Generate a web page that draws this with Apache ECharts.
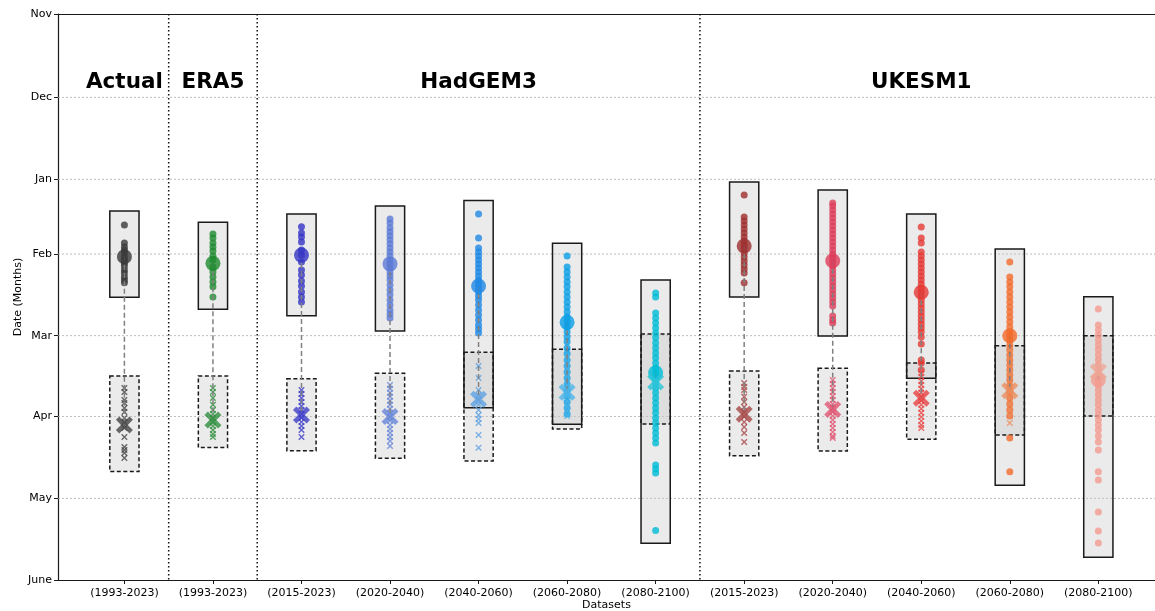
<!DOCTYPE html>
<html>
<head>
<meta charset="utf-8">
<script src="https://cdn.jsdelivr.net/npm/echarts@6/dist/echarts.min.js"></script>
<style>
  html, body { margin: 0; padding: 0; background: #fff; }
  #chart { width: 1155px; height: 611px; }
</style>
</head>
<body>
<div id="chart"></div>
<script>
// Season dates are stored as days after 1 November.
const periods = ['(1993-2023)', '(1993-2023)', '(2015-2023)', '(2020-2040)', '(2040-2060)',
                 '(2060-2080)', '(2080-2100)', '(2015-2023)', '(2020-2040)', '(2040-2060)',
                 '(2060-2080)', '(2080-2100)'];

const monthLabels = ['Nov', 'Dec', 'Jan', 'Feb', 'Mar', 'Apr', 'May', 'June'];
const monthDays   = [0, 31.2, 61.9, 89.9, 120.5, 150.8, 181.4, 212];

// dataset headings and the category they sit over
const groupNames  = ['Actual', 'ERA5', 'HadGEM3', 'UKESM1'];
const groupCentre = [0, 1, 4, 9];
const groupDay    = 25.5;

// boundaries between dataset families (category coordinates)
const separators = [0.5, 1.5, 6.5];

// start-of-season dates (dots), one list per category
const startDays = [
  [79.0, 85.8, 87.3, 88.4, 89.5, 91.0, 92.1, 93.3, 94.4, 95.9, 97.0, 98.5, 99.6, 100.7],
  [82.4, 83.9, 85.8, 87.3, 88.8, 90.6, 92.1, 94.8, 96.6, 98.5, 100.4, 102.2, 106.0],
  [79.7, 82.0, 83.5, 85.4, 88.4, 90.3, 92.9, 95.9, 97.8, 100.0, 101.9, 104.1, 106.0, 107.9],
  [76.8, 78.3, 80.1, 81.6, 83.1, 84.6, 86.1, 87.6, 89.1, 90.6, 92.1, 93.6, 95.1, 96.6, 98.1,
   99.6, 101.5, 103.4, 105.2, 107.1, 109.0, 110.9, 112.4, 113.9],
  [74.9, 83.9, 87.6, 89.1, 90.6, 92.1, 93.6, 95.1, 96.6, 98.1, 99.6, 101.1, 102.6, 104.1,
   105.6, 107.1, 109.0, 110.9, 112.7, 114.6, 116.5, 118.0, 119.5],
  [90.6, 94.8, 96.6, 98.5, 100.4, 102.2, 104.1, 106.0, 107.9, 109.7, 111.6, 113.5, 115.4,
   117.2, 119.1, 121.0, 122.8, 125.1, 127.3, 129.6, 131.8, 134.1, 136.3, 138.6, 140.8,
   143.1, 145.3, 147.6, 149.8],
  [104.5, 106.0, 112.0, 113.9, 115.7, 117.6, 119.5, 121.3, 123.2, 125.1, 127.0, 128.8,
   130.7, 132.6, 134.5, 136.3, 138.2, 140.1, 141.9, 143.8, 145.7, 147.6, 149.4, 151.3,
   153.2, 155.1, 156.9, 158.8, 160.7, 168.9, 170.4, 171.9, 193.5],
  [67.8, 76.0, 77.5, 79.0, 80.5, 82.0, 83.5, 85.0, 86.5, 88.0, 89.5, 91.0, 92.5, 94.0,
   95.5, 97.0, 100.7],
  [70.8, 71.9, 73.4, 74.9, 76.4, 77.9, 79.4, 80.9, 82.4, 83.9, 85.4, 86.9, 88.4, 89.9,
   91.4, 92.9, 94.4, 95.9, 97.4, 98.9, 100.4, 101.9, 103.4, 104.9, 106.4, 107.9, 109.4,
   113.1, 114.6, 115.7],
  [79.8, 83.9, 85.8, 89.1, 90.6, 92.1, 93.6, 95.1, 96.6, 98.1, 99.6, 101.1, 102.6, 104.1,
   105.6, 107.1, 108.6, 110.1, 111.6, 113.1, 114.6, 116.1, 117.6, 119.1, 121.0, 123.6,
   129.6, 130.7, 133.3],
  [92.9, 98.5, 100.4, 102.2, 104.1, 106.0, 107.9, 109.7, 111.6, 113.5, 115.4, 117.2, 119.1,
   120.6, 122.1, 124.0, 125.8, 127.7, 129.6, 131.5, 133.3, 135.2, 137.1, 139.3, 141.6,
   143.8, 146.1, 148.3, 150.6, 158.8, 171.5],
  [110.5, 116.5, 118.4, 120.2, 122.1, 124.0, 125.8, 127.7, 129.6, 131.5, 133.3, 135.2,
   137.1, 139.0, 140.8, 142.7, 144.6, 146.4, 148.3, 150.2, 152.1, 153.9, 155.8, 158.1,
   160.3, 163.3, 171.5, 174.5, 186.5, 193.6, 198.1]
];

// end-of-season dates (crosses), one list per category
const endDays = [
  [140.1, 141.6, 144.6, 145.7, 147.6, 149.1, 151.3, 152.8, 155.1, 158.4, 162.2, 163.3, 164.4, 166.3],
  [140.1, 141.6, 143.8, 146.4, 148.3, 149.8, 151.3, 152.8, 154.3, 155.8, 157.3, 158.4],
  [140.8, 142.3, 143.8, 145.3, 146.8, 148.3, 149.8, 151.3, 152.8, 154.3, 155.8, 158.4],
  [139.0, 140.4, 141.9, 143.4, 144.9, 146.4, 147.9, 149.4, 150.9, 152.4, 153.9, 155.4,
   156.9, 158.4, 159.9, 161.8],
  [131.8, 136.3, 140.8, 142.7, 144.6, 146.4, 148.3, 150.2, 151.7, 153.2, 157.7, 162.5],
  [128.5, 130.7, 133.0, 135.2, 137.5, 139.3, 141.2, 143.1, 144.9, 146.8, 148.7, 150.6],
  [133.3, 134.8, 136.3, 137.8, 139.3, 140.8],
  [138.2, 139.7, 140.8, 143.4, 145.3, 147.2, 149.1, 150.9, 152.8, 154.7, 156.9, 160.3],
  [137.1, 138.6, 140.1, 141.6, 143.1, 144.6, 146.1, 147.6, 149.1, 150.6, 152.1, 153.6,
   155.1, 156.6, 158.1, 158.8],
  [134.5, 136.0, 137.5, 139.0, 140.4, 141.9, 143.4, 144.9, 146.4, 147.9, 149.4, 150.9,
   152.4, 153.9, 155.1],
  [125.8, 128.1, 130.3, 132.6, 134.8, 137.1, 139.3, 141.6, 143.8, 146.1, 148.3, 150.6, 153.2],
  [128.5, 130.3, 132.2, 134.1, 136.0, 137.8, 139.7, 141.6, 143.4, 145.7]
];

// mean start / end dates
const startMean = [90.9, 93.4, 90.3, 93.6, 101.9, 115.5, 134.4, 86.9, 92.4, 104.2, 120.5, 137.1];
const endMean   = [153.9, 152.1, 150.2, 150.8, 144.3, 141.7, 137.8, 149.9, 148.1, 143.9, 141.1, 134.0];

// spread boxes: start (solid outline) and end (dashed outline)
const startLow  = [73.8, 78.0, 74.9, 71.9, 69.9, 85.9, 99.6, 62.9, 65.9, 74.9, 88.0, 105.9];
const startHigh = [106.1, 110.6, 113.0, 118.7, 147.5, 153.7, 198.2, 106.0, 120.6, 136.4, 176.5, 203.5];
const endLow    = [135.6, 135.6, 136.6, 134.6, 126.7, 125.6, 119.9, 133.7, 132.7, 130.7, 124.3, 120.5];
const endHigh   = [171.4, 162.4, 163.6, 166.4, 167.4, 155.4, 153.6, 165.5, 163.7, 159.3, 157.7, 150.6];

// colours per category
const startColors = ['#3a3a3a', '#1f8b30', '#3434c6', '#5b7bd6', '#1f88e5', '#0a9fe6',
                     '#00bcd6', '#9e2f2f', '#dc3d5a', '#e53935', '#f36a2a', '#f39b90'];
const endColors   = ['#454545', '#2f8f3e', '#3e3ec9', '#6686d8', '#5ea1e2', '#4cb4e8',
                     '#2cc4d9', '#a84747', '#e05572', '#e84242', '#eb8d5e', '#eca696'];

const FONT = 'DejaVu Sans';
const AXIS_COLOR = '#1a1a1a';
const BOX_HALF = 0.165;
const CROSS_PATH = 'path://M0,0L10,10M10,0L0,10';
const BIG_X_PATH = 'path://M2,0L5,3L8,0L10,2L7,5L10,8L8,10L5,7L2,10L0,8L3,5L0,2Z';

const chart = echarts.init(document.getElementById('chart'), null, { renderer: 'canvas' });

const cats = periods.map((_, i) => i);

const startPoints = [];
startDays.forEach((list, i) => list.forEach(d => startPoints.push({
  value: [i, d], itemStyle: { color: startColors[i] }
})));
const endPoints = [];
endDays.forEach((list, i) => list.forEach(d => endPoints.push({
  value: [i, d], itemStyle: { color: 'transparent', borderColor: endColors[i], borderWidth: 1.4 }
})));

const xRange = { min: -0.75, max: 11.64 };

const option = {
  animation: false,
  backgroundColor: '#ffffff',
  textStyle: { fontFamily: FONT },
  grid: { left: 58, top: 14, bottom: 31, right: 0, outerBoundsMode: 'none' },
  xAxis: [
    {
      type: 'value', min: xRange.min, max: xRange.max, position: 'bottom',
      name: 'Datasets', nameLocation: 'middle', nameGap: 20, nameMoveOverlap: false,
      nameTextStyle: { fontFamily: FONT, fontSize: 11, color: '#000' },
      axisLine: { show: true, onZero: false, lineStyle: { color: AXIS_COLOR, width: 1.2 } },
      axisTick: { show: true, customValues: cats, length: 4, lineStyle: { color: AXIS_COLOR } },
      axisLabel: {
        customValues: cats, margin: 8, fontFamily: FONT, fontSize: 11, color: '#000',
        formatter: v => periods[Math.round(v)]
      },
      splitLine: { show: false }
    },
    {
      // top frame line
      type: 'value', min: xRange.min, max: xRange.max, position: 'top',
      axisLine: { show: true, onZero: false, lineStyle: { color: AXIS_COLOR, width: 1.2 } },
      axisTick: { show: false }, axisLabel: { show: false }, splitLine: { show: false }
    }
  ],
  yAxis: {
    type: 'value', inverse: true, min: 0, max: 212,
    name: 'Date (Months)', nameLocation: 'middle', nameGap: 34, nameRotate: 90,
    nameMoveOverlap: false,
    nameTextStyle: { fontFamily: FONT, fontSize: 11, color: '#000' },
    axisLine: { show: true, onZero: false, lineStyle: { color: AXIS_COLOR, width: 1.2 } },
    axisTick: { show: true, customValues: monthDays, length: 4, lineStyle: { color: AXIS_COLOR } },
    axisLabel: {
      customValues: monthDays, margin: 6, fontFamily: FONT, fontSize: 11, color: '#000',
      showMinLabel: true, showMaxLabel: true,
      formatter: v => {
        const k = monthDays.findIndex(m => Math.abs(m - v) < 0.01);
        return k >= 0 ? monthLabels[k] : '';
      }
    },
    splitLine: { show: false }
  },
  series: [
    {
      // horizontal month grid lines
      type: 'custom', silent: true, z: 1,
      data: monthDays.slice(1, -1).map(d => [0, d]),
      renderItem: (params, api) => {
        const cs = params.coordSys;
        const y = api.coord([0, api.value(1)])[1];
        return {
          type: 'line',
          shape: { x1: cs.x, y1: y, x2: cs.x + cs.width, y2: y },
          style: { stroke: '#adadad', lineWidth: 0.8, lineDash: [2, 2] }
        };
      }
    },
    {
      // dotted separators between dataset families
      type: 'custom', silent: true, z: 1,
      data: separators.map(x => [x, 0]),
      renderItem: (params, api) => {
        const cs = params.coordSys;
        const x = api.coord([api.value(0), 0])[0];
        return {
          type: 'line',
          shape: { x1: x, y1: cs.y, x2: x, y2: cs.y + cs.height },
          style: { stroke: '#111', lineWidth: 1.5, lineDash: [1.5, 2.5] }
        };
      }
    },
    {
      // spread boxes
      type: 'custom', silent: true, z: 2,
      data: cats.map(i => [i, startLow[i], startHigh[i], endLow[i], endHigh[i]]),
      renderItem: (params, api) => {
        const i = api.value(0);
        const a0 = api.coord([i - BOX_HALF, api.value(1)]);
        const a1 = api.coord([i + BOX_HALF, api.value(2)]);
        const b0 = api.coord([i - BOX_HALF, api.value(3)]);
        const b1 = api.coord([i + BOX_HALF, api.value(4)]);
        const fill = 'rgba(200,200,200,0.36)';
        const rectA = { x: a0[0], y: a0[1], width: a1[0] - a0[0], height: a1[1] - a0[1] };
        const rectB = { x: b0[0], y: b0[1], width: b1[0] - b0[0], height: b1[1] - b0[1] };
        return {
          type: 'group',
          children: [
            { type: 'rect', shape: rectA, style: { fill: fill } },
            { type: 'rect', shape: rectB, style: { fill: fill } },
            { type: 'rect', shape: rectA, style: { fill: 'none', stroke: AXIS_COLOR, lineWidth: 1.5 } },
            { type: 'rect', shape: rectB, style: { fill: 'none', stroke: AXIS_COLOR, lineWidth: 1.5, lineDash: [4, 2.5] } }
          ]
        };
      }
    },
    {
      // individual start dates
      type: 'scatter', z: 3, symbol: 'circle', symbolSize: 7,
      data: startPoints
    },
    {
      // individual end dates
      type: 'scatter', z: 3, symbol: CROSS_PATH, symbolSize: 5.5,
      data: endPoints
    },
    {
      // dashed link between mean start and mean end
      type: 'custom', silent: true, z: 4,
      data: cats.map(i => [i, startMean[i], endMean[i]]),
      renderItem: (params, api) => {
        const p0 = api.coord([api.value(0), api.value(1)]);
        const p1 = api.coord([api.value(0), api.value(2)]);
        return {
          type: 'line',
          shape: { x1: p0[0], y1: p0[1], x2: p1[0], y2: p1[1] },
          style: { stroke: '#808080', lineWidth: 1.5, lineDash: [5, 3] }
        };
      }
    },
    {
      // mean start date
      type: 'scatter', z: 5, symbol: 'circle', symbolSize: 15,
      data: cats.map(i => ({ value: [i, startMean[i]], itemStyle: { color: startColors[i] } }))
    },
    {
      // mean end date
      type: 'scatter', z: 5, symbol: BIG_X_PATH, symbolSize: 17,
      data: cats.map(i => ({ value: [i, endMean[i]], itemStyle: { color: endColors[i] } }))
    },
    {
      // dataset family headings
      type: 'custom', silent: true, z: 6,
      data: groupCentre.map(c => [c, groupDay]),
      renderItem: (params, api) => {
        const p = api.coord([api.value(0), api.value(1)]);
        return {
          type: 'text',
          x: p[0], y: p[1],
          style: {
            text: groupNames[params.dataIndex],
            fontFamily: FONT, fontWeight: 'bold', fontSize: 21.5, fill: '#000',
            align: 'center', verticalAlign: 'middle'
          }
        };
      }
    }
  ]
};

chart.setOption(option);
</script>
</body>
</html>
